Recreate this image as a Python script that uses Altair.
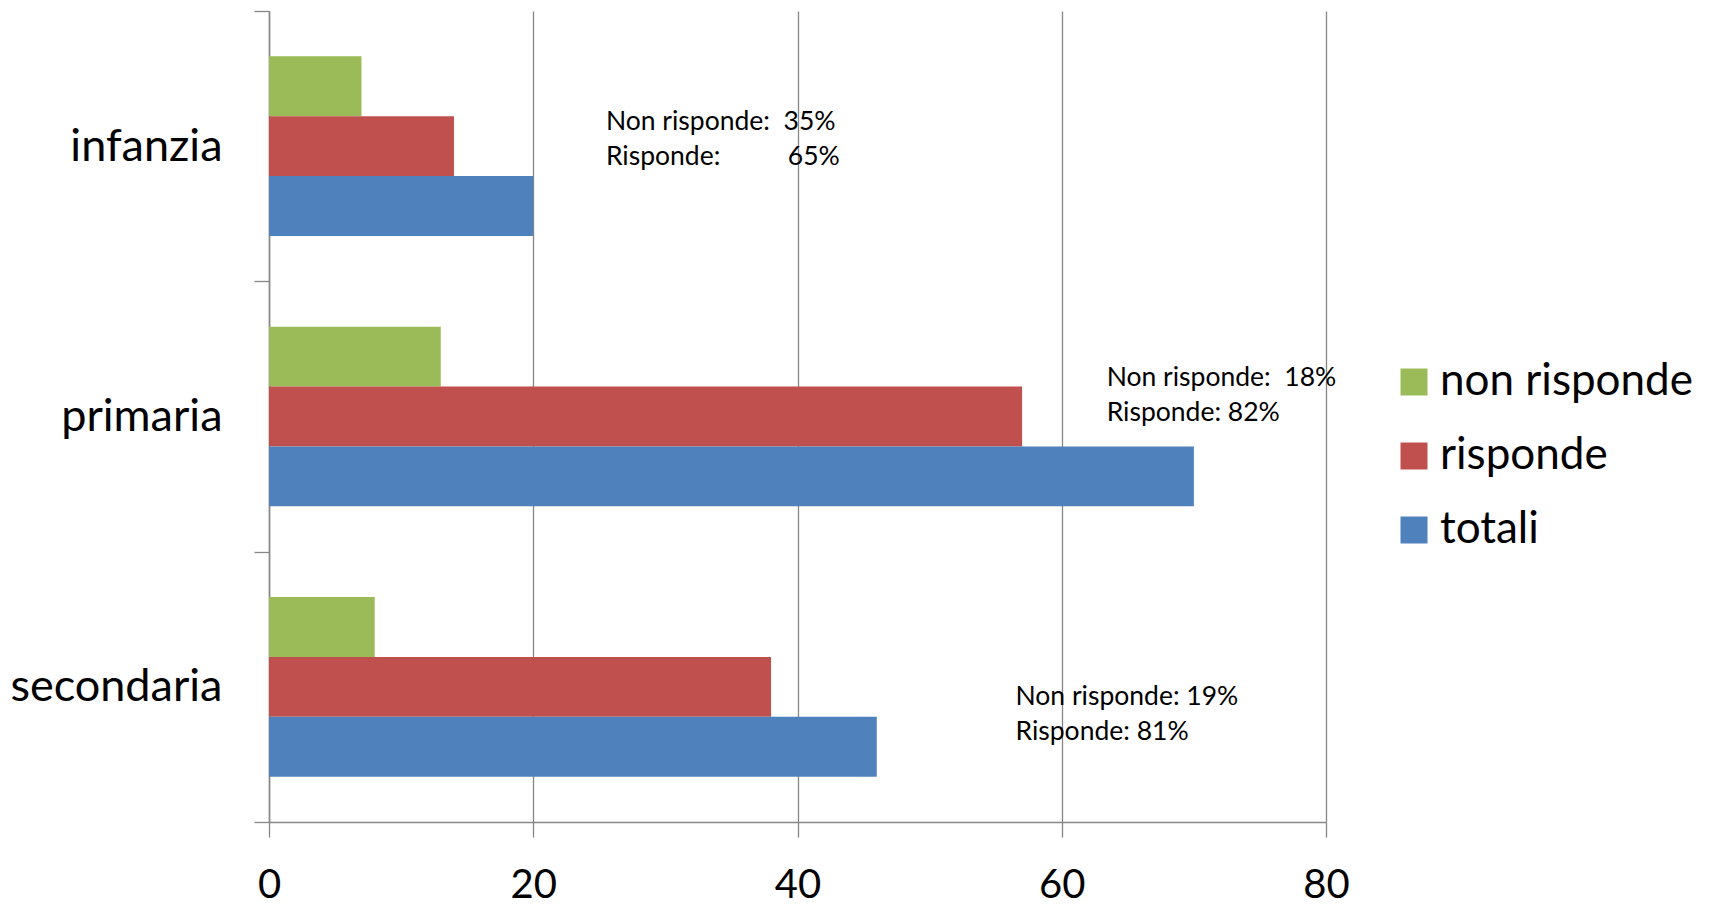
import altair as alt
import pandas as pd

categories = ["infanzia", "primaria", "secondaria"]
series = ["non risponde", "risponde", "totali"]
non_risponde = [7, 13, 8]
risponde = [14, 57, 38]
totali = [20, 70, 46]
colors = ["#9BBB59", "#C0504D", "#4F81BD"]
x_ticks = [0, 20, 40, 60, 80]

NB = "\u00a0"
# annotation text lines (category, x position in data units, text, vertical pixel shift)
ann_cat = ["infanzia", "infanzia", "primaria", "primaria", "secondaria", "secondaria"]
ann_text = ["Non risponde:" + NB + NB + "35%", "Risponde:", "Non risponde:" + NB + NB + "18%",
            "Risponde: 82%", "Non risponde: 19%", "Risponde: 81%"]
ann_x = [25.5, 25.5, 63.4, 63.4, 56.5, 56.5]
ann_dy = [-24, 11, -39, -4, 10, 45]
# right-aligned percentage on the second infanzia line
ann_r_cat = ["infanzia"]
ann_r_text = ["65%"]
ann_r_x = [43.2]
ann_r_dy = [11]

FONT = "Lato"
GRAY = "#868686"

rows = []
for i, c in enumerate(categories):
    for s, vals in zip(series, [non_risponde, risponde, totali]):
        rows.append({"category": c, "series": s, "value": vals[i]})
df = pd.DataFrame(rows)

x_scale = alt.Scale(domain=[0, 80], nice=False)
y_scale = alt.Scale(domain=categories, paddingInner=0, paddingOuter=0)

bars = alt.Chart(df).mark_bar(strokeWidth=0).encode(
    x=alt.X("value:Q", scale=x_scale,
            axis=alt.Axis(values=x_ticks, title=None, grid=True, gridColor=GRAY,
                          gridWidth=1.3, domainColor=GRAY, domainWidth=1.5,
                          tickColor=GRAY, tickSize=15, tickWidth=1.3,
                          labelFontSize=40, labelFont=FONT, labelColor="black",
                          labelPadding=28, labelFlush=False)),
    y=alt.Y("category:N", sort=categories, scale=y_scale,
            axis=alt.Axis(title=None, tickBand="extent", domainColor=GRAY, domainWidth=1.5,
                          tickColor=GRAY, tickSize=15, tickWidth=1.3,
                          labelFontSize=45, labelFont=FONT, labelColor="black",
                          labelPadding=32, labelLimit=0)),
    yOffset=alt.YOffset("series:N", sort=series,
                        scale=alt.Scale(domain=series, paddingInner=0, paddingOuter=0.756)),
    color=alt.Color("series:N", sort=series,
                    scale=alt.Scale(domain=series, range=colors),
                    legend=alt.Legend(title=None, orient="none", legendX=1123, legendY=349,
                                      symbolType="square", symbolSize=729,
                                      symbolStrokeWidth=0, labelLimit=0,
                                      labelFontSize=44, labelFont=FONT, labelColor="black",
                                      labelOffset=4, rowPadding=30)),
)

layers = [bars]
for c, t, xv, d in zip(ann_cat, ann_text, ann_x, ann_dy):
    dfa = pd.DataFrame({"category": [c], "x": [xv], "text": [t]})
    layers.append(alt.Chart(dfa).mark_text(align="left", baseline="middle", dy=d,
                                            fontSize=26.5, font=FONT, color="black").encode(
        x=alt.X("x:Q", scale=x_scale),
        y=alt.Y("category:N", sort=categories, scale=y_scale),
        text="text:N"))
for c, t, xv, d in zip(ann_r_cat, ann_r_text, ann_r_x, ann_r_dy):
    dfa = pd.DataFrame({"category": [c], "x": [xv], "text": [t]})
    layers.append(alt.Chart(dfa).mark_text(align="right", baseline="middle", dy=d,
                                            fontSize=26.5, font=FONT, color="black").encode(
        x=alt.X("x:Q", scale=x_scale),
        y=alt.Y("category:N", sort=categories, scale=y_scale),
        text="text:N"))

chart = alt.layer(*layers).properties(
    width=1057, height=811, background="white",
    padding={"left": 261, "top": 3, "right": 370, "bottom": 90},
    autosize=alt.AutoSizeParams(type="none"),
).configure_view(stroke=None)

chart.save("out.html", embed_options={"renderer": "svg", "actions": False})
